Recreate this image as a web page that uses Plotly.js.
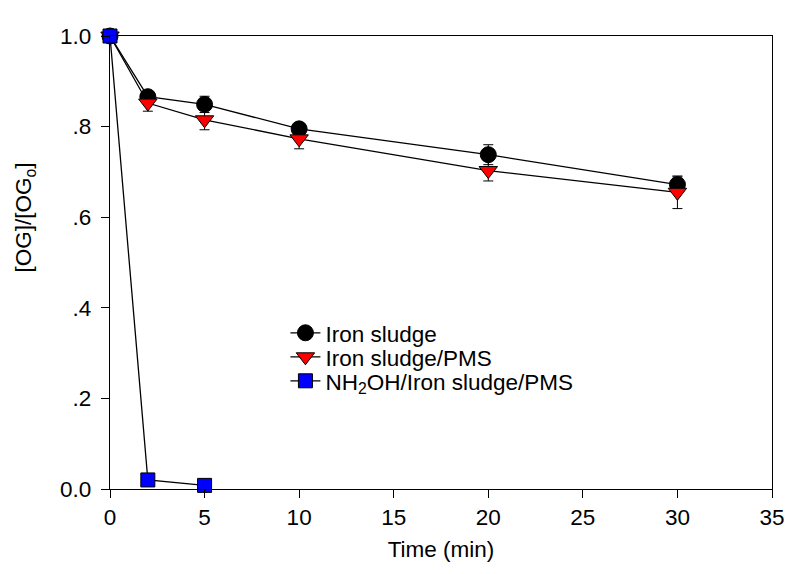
<!DOCTYPE html>
<html>
<head>
<meta charset="utf-8">
<script src="https://cdn.plot.ly/plotly-3.0.1.min.js"></script>
<style>html,body{margin:0;padding:0;background:#fff;}#chart{width:788px;height:574px;}</style>
</head>
<body>
<div id="chart"></div>
<script>
const time = [0, 2, 5, 10, 20, 30];
const timeNH = [0, 2, 5];

const ironSludge = [1.0, 0.866, 0.849, 0.795, 0.738, 0.672];
const ironSludgeErr = [0.0, 0.006, 0.018, 0.006, 0.022, 0.017];

const ironSludgePMS = [1.0, 0.852, 0.815, 0.773, 0.703, 0.655];
const ironSludgePMSErr = [0.0, 0.018, 0.022, 0.022, 0.023, 0.036];

const nhIronSludgePMS = [1.0, 0.02, 0.008];

const seriesNames = ['Iron sludge', 'Iron sludge/PMS', 'NH<sub>2</sub>OH/Iron sludge/PMS'];

const yTickVals = [0, 0.2, 0.4, 0.6, 0.8, 1.0];
const yTickText = ['0.0', '.2', '.4', '.6', '.8', '1.0'];
const xTickVals = [0, 5, 10, 15, 20, 25, 30, 35];

const yTitle = '[OG]/[OG<sub>o</sub>]';
const xTitle = 'Time (min)';

const font = 'Arial, "Liberation Sans", sans-serif';
const fs = 22.5;

const traces = [
  {
    x: time, y: ironSludge, name: seriesNames[0], type: 'scatter', mode: 'lines+markers', cliponaxis: false,
    legend: 'legend',
    line: {color: '#000', width: 1.3},
    marker: {symbol: 'circle', size: 16, color: '#000', line: {color: '#000', width: 1}},
    error_y: {type: 'data', array: ironSludgeErr, visible: true, color: '#000', thickness: 1, width: 5}
  },
  {
    x: time, y: ironSludgePMS, name: seriesNames[1], type: 'scatter', mode: 'lines+markers', cliponaxis: false,
    legend: 'legend2',
    line: {color: '#000', width: 1.3},
    marker: {symbol: 'triangle-down', size: 16, color: '#ff0000', line: {color: '#000', width: 1}},
    error_y: {type: 'data', array: ironSludgePMSErr, visible: true, color: '#000', thickness: 1, width: 5}
  },
  {
    x: timeNH, y: nhIronSludgePMS, name: seriesNames[2], type: 'scatter', mode: 'lines+markers', cliponaxis: false,
    legend: 'legend3',
    line: {color: '#000', width: 1.3},
    marker: {symbol: 'square', size: 14, color: '#0000ff', line: {color: '#000', width: 1}}
  }
];

function leg(y) {
  return {
    x: 0.265, y: y, xanchor: 'left', yanchor: 'middle',
    bgcolor: 'rgba(0,0,0,0)', font: {family: font, size: fs, color: '#000'},
    borderwidth: 0
  };
}

const layout = {
  width: 788, height: 574,
  margin: {l: 110, r: 16, t: 36, b: 85},
  paper_bgcolor: '#fff', plot_bgcolor: '#fff',
  font: {family: font, size: fs, color: '#000'},
  showlegend: true,
  legend: leg(0.344),
  legend2: leg(0.291),
  legend3: leg(0.238),
  xaxis: {
    range: [0, 35], tickvals: xTickVals, ticks: 'outside', ticklen: 8, tickwidth: 1, tickcolor: '#000',
    showline: true, linecolor: '#000', linewidth: 1.3, mirror: true, showgrid: false, zeroline: false,
    tickfont: {family: font, size: fs},
    title: {text: xTitle, font: {family: font, size: fs}, standoff: 12}
  },
  yaxis: {
    range: [0, 1.0], tickvals: yTickVals, ticktext: yTickText, ticks: 'outside', ticklen: 8, tickwidth: 1, tickcolor: '#000',
    ticklabelstandoff: 5,
    showline: true, linecolor: '#000', linewidth: 1.3, mirror: true, showgrid: false, zeroline: false,
    tickfont: {family: font, size: fs}
  },
  annotations: [{
    text: yTitle, textangle: -90, showarrow: false,
    xref: 'paper', yref: 'paper', x: -0.128, y: 0.6, xanchor: 'center', yanchor: 'middle',
    font: {family: font, size: fs, color: '#000'}
  }]
};

Plotly.newPlot('chart', traces, layout, {displayModeBar: false, staticPlot: true});
</script>
</body>
</html>
